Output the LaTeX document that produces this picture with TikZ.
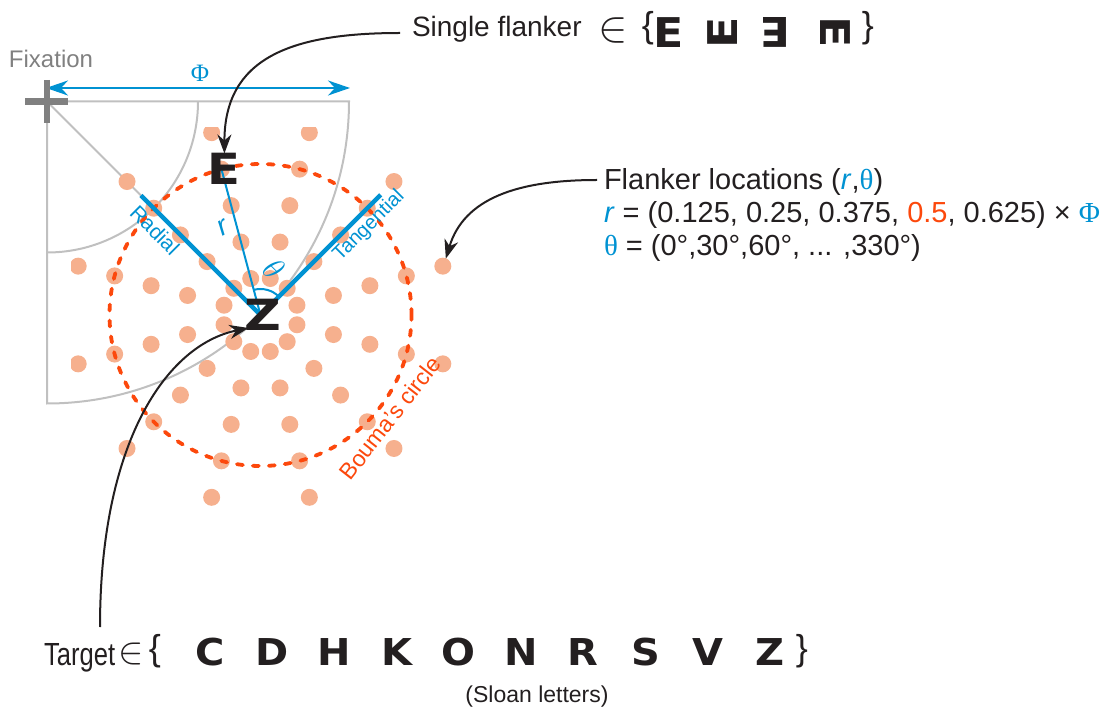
\RequirePackage{fix-cm}
\documentclass[tikz,border=0pt]{standalone}
\usepackage{fontspec}
\setmainfont{Liberation Sans}
\newfontfamily\serifgr{Liberation Serif}
\newfontfamily\heavy{DejaVu Sans}
\usepackage{graphicx}
\usetikzlibrary{arrows.meta,calc}
\definecolor{cblue}{RGB}{0,146,210}
\definecolor{cred}{RGB}{252,72,12}
\definecolor{cdot}{RGB}{246,176,142}
\definecolor{cgray}{RGB}{128,128,128}
\definecolor{clight}{RGB}{192,192,192}
\definecolor{cblack}{RGB}{35,31,32}
\newcommand{\fsz}[1]{\fontsize{#1}{#1}\selectfont}
\newcommand{\sloanlet}[1]{\scalebox{1.08}[1]{#1}}
\begin{document}
\begin{tikzpicture}[x=1pt,y=1pt,
  every node/.style={inner sep=0pt, outer sep=0pt, text=cblack},
  grayline/.style={clight, line width=2pt},
  dotnode/.style={circle, fill=cdot, minimum size=17pt, inner sep=0pt},
  bouma/.style={cred, line width=3.8pt, dash pattern=on 6pt off 10pt, line cap=round},
  blueaxis/.style={cblue, line width=4.4pt},
  bluethin/.style={cblue, line width=2pt},
  conn/.style={cblack, line width=2pt, -{Stealth[length=19pt,width=14pt,inset=6pt]}},
  sloanfont/.style={font=\heavy\fsz{37}\bfseries},
  flankfont/.style={font=\heavy\fsz{41}\bfseries},
  bigfont/.style={font=\heavy\fsz{43}\bfseries},
  bracefont/.style={font=\fsz{36}}
]
\useasboundingbox (0,0) rectangle (1111,710);
\coordinate (F) at (47,608.5);
\coordinate (zc) at (260.5,395);

% sector
\draw[grayline] (F) -- ++(302,0) arc (0:-90:302) -- cycle;
\draw[grayline] ($(F)+(151,0)$) arc (0:-90:151);
\draw[grayline] (F) -- (zc);

% flanker dots
\begin{scope}
\clip (71,203) rectangle (452,582);
\foreach \i/\r in {1/37.75,2/75.5,3/113.25,4/151,5/188.75}{
  \foreach \k in {0,...,11}{
    \node[dotnode] (d\i-\k) at ($(zc)+({15+30*\k}:\r)$) {};
  }
}
\end{scope}

% Bouma's circle
\draw[bouma] (zc) circle (151);

% axes
\draw[blueaxis] (zc) -- ++(135:169);
\draw[blueaxis] (zc) -- ++(45:170);
\draw[bluethin] (d4-3.center) -- (zc);
\draw[bluethin] ($(zc)+(45:26)$) arc (45:104:26);

\node[text=cblue, font=\fsz{21}, rotate=-45] (radial) at (155,480) {Radial};
\node[text=cblue, font=\fsz{20}, rotate=45] (tang) at (369,484) {Tangential};
\node[text=cblue, font=\fsz{28}\itshape, rotate=28] (rlab) at (223,482) {r};
\node[text=cblue, font=\fsz{32}, rotate=-45] (thlab) at (274,441) {$\theta$};
\node[text=cred, font=\fsz{23}, rotate=52] (boumalab) at (390,292) {Bouma's circle};

% Phi arrow
\coordinate (phiL) at (46,622);
\coordinate (phiR) at (350,622);
\draw[cblue, line width=2.2pt, {Stealth[length=22pt,width=15pt,inset=7pt]}-{Stealth[length=22pt,width=15pt,inset=7pt]}] (phiL) -- (phiR);
\node[text=cblue, font=\serifgr\fsz{25}] (philab) at (200,637) {Φ};

% fixation
\draw[cgray, line width=6.5pt] ($(F)+(-22,0)$) -- ($(F)+(21,0)$);
\draw[cgray, line width=6.5pt] ($(F)+(0,21.5)$) -- ($(F)+(0,-21.5)$);
\node[text=cgray, font=\fsz{24}, anchor=base west] (fixlab) at (9,642) {Fixation};

% letters in the display
\node[bigfont] (E) at ($(d4-3.center)+(3,0)$) {\scalebox{1.12}[1]{E}};
\node[bigfont] (Z) at ($(zc)+(2,0)$) {\scalebox{1.18}[1]{Z}};

% top line
\node[font=\fsz{28}, anchor=base west] (single) at (412,673) {Single flanker};
\node[font=\fsz{44}] (in1) at (613,679) {$\in$};
\node[bracefont] (lb1) at (648,681.5) {\{};
\node[flankfont] (s1) at (669,677.5) {\scalebox{1.08}[1]{E}};
\node[flankfont, rotate=90] (s2) at (723,677.5) {\scalebox{1.12}[1]{E}};
\node[flankfont, rotate=180] (s3) at (775,677.5) {\scalebox{1.08}[1]{E}};
\node[flankfont, rotate=-90] (s4) at (835,677.5) {\scalebox{1.12}[1]{E}};
\node[bracefont] (rb1) at (868,681.5) {\}};

% right text
\node[font=\fsz{29}, anchor=base west] (loc1) at (604,520) {Flanker locations (\textcolor{cblue}{\textit{r}},\textcolor{cblue}{\serifgr θ})};
\node[font=\fsz{29}, anchor=base west] (loc2) at (604,487) {\textcolor{cblue}{\textit{r}} = (0.125, 0.25, 0.375, \textcolor{cred}{0.5}, 0.625) × \textcolor{cblue}{\serifgr Φ}};
\node[font=\fsz{29}, anchor=base west] (loc3) at (604,454) {\textcolor{cblue}{\serifgr θ} = (0°,30°,60°, ... ,330°)};

% bottom line
\node[font=\fsz{32}, anchor=base west] (target) at (44,45) {\scalebox{0.8}[1]{Target}};
\node[font=\fsz{38}] (in2) at (131,56) {$\in$};
\node[bracefont] (lb2) at (155,59) {\{};
\foreach \L [count=\n from 0] in {C,D,H,K,O,N,R,S,V,Z}{
  \node[sloanfont, anchor=base] (t\L) at (210+62.2*\n,45) {\sloanlet{\L}};
}
\node[bracefont] (rb2) at (802,59) {\}};
\node[font=\fsz{23}] (sloan) at (537,13) {(Sloan letters)};

% connectors
\draw[conn] ($(single.base west)+(-12,4)$) .. controls +(-110,0) and +(0,95) .. (E.north);
\draw[conn] ($(loc1.base west)+(-7,10)$) .. controls +(-80,0) and +(18,60) .. ($(d5-0.north)+(3,-1)$);
\draw[conn] ($(target.base west)+(56,38)$) .. controls +(0,185) and +(-82,-17) .. ($(Z.center)+(-14,-13)$);
\end{tikzpicture}
\end{document}
